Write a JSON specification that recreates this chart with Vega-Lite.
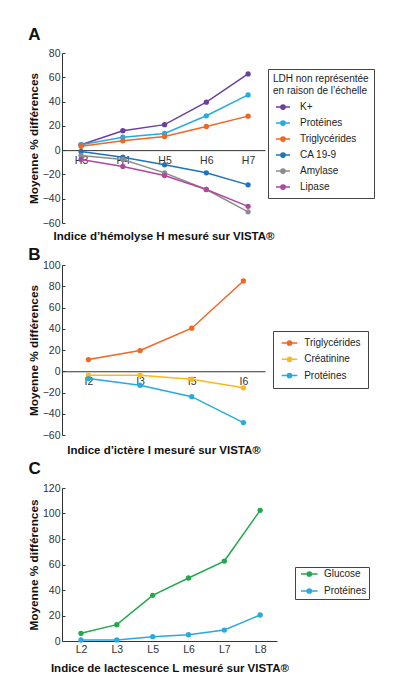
{
  "$schema": "https://vega.github.io/schema/vega-lite/v6.json",
  "background": "white",
  "padding": {"left": 28, "top": 26, "right": 0, "bottom": 0},
  "spacing": 4,
  "config": {
    "font": "Liberation Sans",
    "view": {"stroke": null},
    "title": {"fontSize": 17, "fontWeight": "bold", "anchor": "start", "frame": "bounds", "color": "#111", "offset": 4},
    "axis": {"domainColor": "#333", "tickColor": "#333", "labelColor": "#333", "labelFontSize": 10.5, "titleFontSize": 11.8, "titleFontWeight": "bold", "titleColor": "#111", "grid": false, "domainWidth": 1},
    "axisY": {"tickSize": -3, "labelPadding": 5, "titlePadding": 3},
    "legend": {"strokeColor": "#444", "fillColor": "white", "padding": 5, "labelFontSize": 10, "titleFontSize": 10, "titleFontWeight": "normal", "titleLineHeight": 11.6, "labelColor": "#222", "titleColor": "#222", "symbolStrokeWidth": 1.5, "rowPadding": 4, "labelOffset": 12, "symbolOffset": 5, "symbolSize": 36, "symbolType": "M-2.35,0L2.35,0M-0.7,0A0.7,0.7 0 1,0 0.7,0A0.7,0.7 0 1,0 -0.7,0M-0.4,0A0.4,0.4 0 1,0 0.4,0A0.4,0.4 0 1,0 -0.4,0M-0.12,0A0.12,0.12 0 1,0 0.12,0A0.12,0.12 0 1,0 -0.12,0"}
  },
  "vconcat": [
    {
      "title": {"text": "A"},
      "width": 203,
      "height": 170,
      "data": {"values": [
        {"indice": "H3", "serie": "K+", "valeur": 4.5},
        {"indice": "H4", "serie": "K+", "valeur": 16},
        {"indice": "H5", "serie": "K+", "valeur": 21},
        {"indice": "H6", "serie": "K+", "valeur": 39.5},
        {"indice": "H7", "serie": "K+", "valeur": 62.8},
        {"indice": "H3", "serie": "Protéines", "valeur": 4.5},
        {"indice": "H4", "serie": "Protéines", "valeur": 10.7},
        {"indice": "H5", "serie": "Protéines", "valeur": 13.7},
        {"indice": "H6", "serie": "Protéines", "valeur": 28.3},
        {"indice": "H7", "serie": "Protéines", "valeur": 45.5},
        {"indice": "H3", "serie": "Triglycérides", "valeur": 3.2},
        {"indice": "H4", "serie": "Triglycérides", "valeur": 7.7},
        {"indice": "H5", "serie": "Triglycérides", "valeur": 11.2},
        {"indice": "H6", "serie": "Triglycérides", "valeur": 19.5},
        {"indice": "H7", "serie": "Triglycérides", "valeur": 28},
        {"indice": "H3", "serie": "CA 19-9", "valeur": -1.1},
        {"indice": "H4", "serie": "CA 19-9", "valeur": -5.8},
        {"indice": "H5", "serie": "CA 19-9", "valeur": -12.1},
        {"indice": "H6", "serie": "CA 19-9", "valeur": -18.7},
        {"indice": "H7", "serie": "CA 19-9", "valeur": -28.6},
        {"indice": "H3", "serie": "Amylase", "valeur": -4.4},
        {"indice": "H4", "serie": "Amylase", "valeur": -7.7},
        {"indice": "H5", "serie": "Amylase", "valeur": -18.7},
        {"indice": "H6", "serie": "Amylase", "valeur": -32.4},
        {"indice": "H7", "serie": "Amylase", "valeur": -50.8},
        {"indice": "H3", "serie": "Lipase", "valeur": -7.7},
        {"indice": "H4", "serie": "Lipase", "valeur": -13.4},
        {"indice": "H5", "serie": "Lipase", "valeur": -20.9},
        {"indice": "H6", "serie": "Lipase", "valeur": -32.4},
        {"indice": "H7", "serie": "Lipase", "valeur": -46.3}
      ]},
      "mark": {"type": "line", "strokeWidth": 1.5, "point": {"filled": true, "size": 28}},
      "encoding": {
        "x": {"field": "indice", "type": "ordinal", "scale": {"type": "point", "padding": 0.431, "align": 0.53},
          "axis": {"title": "Indice d’hémolyse H mesuré sur VISTA®", "offset": -72.86, "ticks": false, "labelAngle": 0, "labelPadding": 5, "titleFontSize": 11.5, "titleY": 80, "titleBaseline": "top"}},
        "y": {"field": "valeur", "type": "quantitative", "scale": {"domain": [-60, 80], "nice": false},
          "axis": {"title": "Moyenne % différences", "values": [-60, -40, -20, 0, 20, 40, 60, 80]}},
        "color": {"field": "serie", "type": "nominal",
          "scale": {"domain": ["K+", "Protéines", "Triglycérides", "CA 19-9", "Amylase", "Lipase"], "range": ["#6b3fa0", "#27aae1", "#f26522", "#1c75bc", "#8c8c8c", "#b0479e"]},
          "legend": {"title": ["LDH non représentée", "en raison de l’échelle"], "orient": "none", "legendX": 206, "legendY": 16, "titlePadding": 6.5}}
      }
    },
    {
      "title": {"text": "B", "offset": -4},
      "width": 203,
      "height": 170,
      "data": {"values": [
        {"indice": "I2", "serie": "Triglycérides", "valeur": 11},
        {"indice": "I3", "serie": "Triglycérides", "valeur": 19.5},
        {"indice": "I5", "serie": "Triglycérides", "valeur": 40.5},
        {"indice": "I6", "serie": "Triglycérides", "valeur": 85},
        {"indice": "I2", "serie": "Créatinine", "valeur": -3.7},
        {"indice": "I3", "serie": "Créatinine", "valeur": -3.7},
        {"indice": "I5", "serie": "Créatinine", "valeur": -7.5},
        {"indice": "I6", "serie": "Créatinine", "valeur": -15.6},
        {"indice": "I2", "serie": "Protéines", "valeur": -6.9},
        {"indice": "I3", "serie": "Protéines", "valeur": -13.2},
        {"indice": "I5", "serie": "Protéines", "valeur": -23.9},
        {"indice": "I6", "serie": "Protéines", "valeur": -48.3}
      ]},
      "mark": {"type": "line", "strokeWidth": 1.5, "point": {"filled": true, "size": 28}},
      "encoding": {
        "x": {"field": "indice", "type": "ordinal", "scale": {"type": "point", "padding": 0.465, "align": 0.55},
          "axis": {"title": "Indice d’ictère I mesuré sur VISTA®", "offset": -63.75, "ticks": false, "labelAngle": 0, "labelPadding": 5, "titleFontSize": 11.5, "titleY": 73, "titleBaseline": "top"}},
        "y": {"field": "valeur", "type": "quantitative", "scale": {"domain": [-60, 100], "nice": false},
          "axis": {"title": "Moyenne % différences", "values": [-60, -40, -20, 0, 20, 40, 60, 80, 100]}},
        "color": {"field": "serie", "type": "nominal",
          "scale": {"domain": ["Triglycérides", "Créatinine", "Protéines"], "range": ["#f26522", "#fcb918", "#27aae1"]},
          "legend": {"title": null, "orient": "none", "legendX": 211, "legendY": 66, "padding": 7, "rowPadding": 4.3, "symbolOffset": 4.5, "labelOffset": 9.7, "symbolType": "M-2.6,0L2.6,0M-0.7,0A0.7,0.7 0 1,0 0.7,0A0.7,0.7 0 1,0 -0.7,0M-0.4,0A0.4,0.4 0 1,0 0.4,0A0.4,0.4 0 1,0 -0.4,0M-0.12,0A0.12,0.12 0 1,0 0.12,0A0.12,0.12 0 1,0 -0.12,0"}}
      }
    },
    {
      "title": {"text": "C", "offset": 5},
      "width": 215,
      "height": 153,
      "data": {"values": [
        {"indice": "L2", "serie": "Glucose", "valeur": 6},
        {"indice": "L3", "serie": "Glucose", "valeur": 12.8},
        {"indice": "L5", "serie": "Glucose", "valeur": 35.8},
        {"indice": "L6", "serie": "Glucose", "valeur": 49.4},
        {"indice": "L7", "serie": "Glucose", "valeur": 62.7},
        {"indice": "L8", "serie": "Glucose", "valeur": 102.5},
        {"indice": "L2", "serie": "Protéines", "valeur": 0.8},
        {"indice": "L3", "serie": "Protéines", "valeur": 0.8},
        {"indice": "L5", "serie": "Protéines", "valeur": 3.4},
        {"indice": "L6", "serie": "Protéines", "valeur": 4.9},
        {"indice": "L7", "serie": "Protéines", "valeur": 8.6},
        {"indice": "L8", "serie": "Protéines", "valeur": 20.4}
      ]},
      "mark": {"type": "line", "strokeWidth": 1.5, "point": {"filled": true, "size": 28}},
      "encoding": {
        "x": {"field": "indice", "type": "ordinal", "scale": {"type": "point", "padding": 0.5, "align": 0.53},
          "axis": {"title": "Indice de lactescence L mesuré sur VISTA®", "ticks": false, "labelAngle": 0, "labelPadding": 3, "titleFontSize": 11.5, "titlePadding": 8}},
        "y": {"field": "valeur", "type": "quantitative", "scale": {"domain": [0, 120], "nice": false},
          "axis": {"title": "Moyenne % différences", "values": [0, 20, 40, 60, 80, 100, 120]}},
        "color": {"field": "serie", "type": "nominal",
          "scale": {"domain": ["Glucose", "Protéines"], "range": ["#23a84d", "#27aae1"]},
          "legend": {"title": null, "orient": "none", "legendX": 233, "legendY": 79, "padding": 2, "rowPadding": 5, "symbolOffset": 7.3, "labelOffset": 9.7, "symbolType": "M-2.75,0L2.75,0M-0.7,0A0.7,0.7 0 1,0 0.7,0A0.7,0.7 0 1,0 -0.7,0M-0.4,0A0.4,0.4 0 1,0 0.4,0A0.4,0.4 0 1,0 -0.4,0M-0.12,0A0.12,0.12 0 1,0 0.12,0A0.12,0.12 0 1,0 -0.12,0"}}
      }
    }
  ],
  "resolve": {"scale": {"color": "independent", "x": "independent", "y": "independent"}, "legend": {"color": "independent"}}
}
